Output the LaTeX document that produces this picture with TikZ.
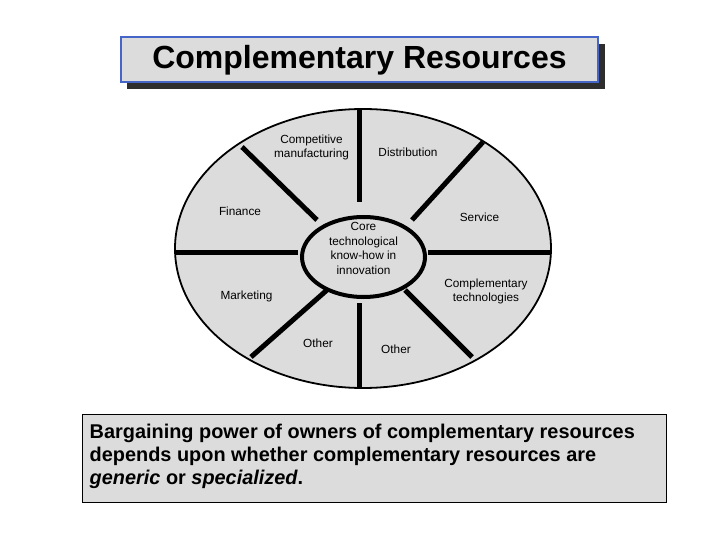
\documentclass[tikz,border=0pt]{standalone}
\usepackage{fontspec}
\setmainfont{Liberation Sans}
\definecolor{panel}{HTML}{DCDCDC}
\definecolor{titleblue}{HTML}{4565C8}
\definecolor{shadowgray}{HTML}{2E2E2E}
\tikzset{
  spoke/.style={line width=5pt, line cap=butt},
  lbl/.style={align=center, inner sep=0pt, font=\fontsize{11.8}{14.6}\selectfont},
}
\begin{document}
\begin{tikzpicture}[x=1pt,y=-1pt]
\useasboundingbox[fill=white] (0,0) rectangle (720,540);
% title
\fill[shadowgray] (127,44) rectangle (605,89);
\draw[titleblue, line width=2pt, fill=panel] (121,37) rectangle (598,82);
\node[inner sep=0pt, font=\fontsize{32}{36}\selectfont\bfseries] (title) at (359.5,60) {Complementary Resources};
% outer ellipse
\draw[line width=1.8pt, fill=panel] (363,248.5) ellipse [x radius=188pt, y radius=139.5pt];
% spokes
\draw[spoke] (176,252) -- (298,252);
\draw[spoke] (428,252) -- (551,252);
\draw[spoke] (359,110) -- (359,202);
\draw[spoke] (359,303) -- (359,388);
\draw[spoke] (242,147) -- (317,220);
\draw[spoke] (483,142) -- (412,220);
\draw[spoke] (327,290) -- (251,357);
\draw[spoke] (405,290) -- (472,357);
% inner ellipse
\draw[line width=4pt, fill=panel] (363.5,257) ellipse [x radius=61.5pt, y radius=40pt];
% labels
\node[lbl] (comp) at (311.5,147.5) {Competitive\\manufacturing};
\node[lbl] (dist) at (408,152) {Distribution};
\node[lbl] (fin) at (240,211.5) {Finance};
\node[lbl] (serv) at (479.5,217.5) {Service};
\node[lbl] (core) at (363.5,248.5) {Core\\technological\\know-how in\\innovation};
\node[lbl] (ctech) at (486,291.5) {Complementary\\technologies};
\node[lbl] (mkt) at (246.5,296) {Marketing};
\node[lbl] (oth1) at (318,343) {Other};
\node[lbl] (oth2) at (396,349) {Other};
% bottom box
\draw[line width=0.8pt, fill=panel] (82,414) rectangle (666,502);
\node[anchor=west, align=left, inner sep=0pt, font=\fontsize{19.9}{22.8}\selectfont\bfseries] (note) at (89.5,456.5)
  {Bargaining power of owners of complementary resources\\depends upon whether complementary resources are\\\textit{generic} or \textit{specialized}.};
\end{tikzpicture}
\end{document}
